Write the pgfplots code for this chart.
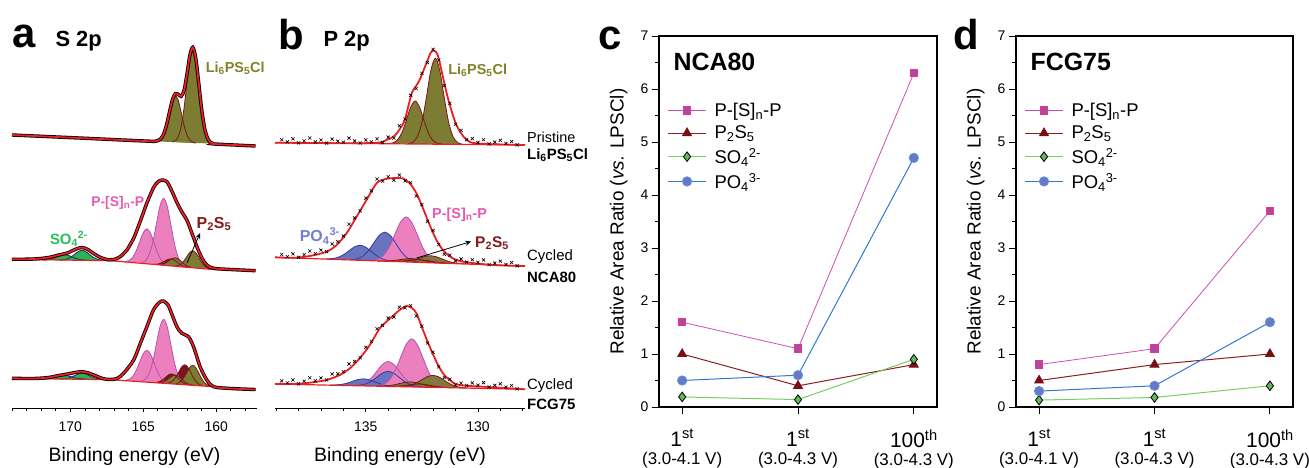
\documentclass[border=0pt]{standalone}
\usepackage{fontspec}
\setmainfont{Liberation Sans}
\usepackage{pgfplots}
\usepackage{pgfplotstable}
\pgfplotsset{compat=1.18}
\usetikzlibrary{arrows.meta}

\definecolor{olivef}{RGB}{124,124,50}
\definecolor{compred}{RGB}{120,25,25}
\definecolor{pinkf}{RGB}{236,128,190}
\definecolor{pinkline}{RGB}{175,85,175}
\definecolor{greenf}{RGB}{40,180,80}
\definecolor{navyl}{RGB}{30,40,120}
\definecolor{bluef}{RGB}{105,115,190}
\definecolor{bluel}{RGB}{45,60,160}
\definecolor{redf}{RGB}{125,20,25}
\definecolor{envred}{RGB}{235,30,35}
\definecolor{lblolive}{RGB}{130,130,40}
\definecolor{lblpink}{RGB}{230,90,175}
\definecolor{lblred}{RGB}{135,25,30}
\definecolor{lblgreen}{RGB}{40,190,90}
\definecolor{lblblue}{RGB}{115,125,205}
\definecolor{cPSline}{RGB}{200,80,180}
\definecolor{cPSfill}{RGB}{170,75,160}
\definecolor{cPSedge}{RGB}{240,50,140}
\definecolor{cPtwoline}{RGB}{140,30,30}
\definecolor{cPtwofill}{RGB}{120,15,20}
\definecolor{cSOline}{RGB}{120,205,100}
\definecolor{cSOfill}{RGB}{95,185,85}
\definecolor{cPOline}{RGB}{50,120,210}
\definecolor{cPOfill}{RGB}{105,120,195}
\definecolor{cPOedge}{RGB}{90,150,230}

\newcommand{\compfill}[2]{\addplot[smooth, draw=none, fill=#2] table {#1} -- cycle;}
\newcommand{\compline}[2]{\addplot[smooth, draw=#2, line width=0.8bp] table {#1};}
\newcommand{\lgf}{\fontsize{18.5}{21}\selectfont}

% ---------- S 2p (panel a), y = image row ----------
\pgfplotstableread[row sep=\\]{x y\\
163.0 141.9\\ 162.8 140.6\\ 162.6 136.5\\ 162.4 126.5\\ 162.2 107.7\\ 162.0 81.9\\ 161.8 58.0\\
161.6 48.2\\ 161.4 58.3\\ 161.2 82.4\\ 161.0 108.5\\ 160.8 127.5\\ 160.6 137.8\\ 160.4 142.2\\ 160.2 143.7\\
}\aTopBig
\pgfplotstableread[row sep=\\]{x y\\
164.2 141.3\\ 164.0 140.7\\ 163.8 138.8\\ 163.6 133.9\\ 163.4 124.7\\ 163.2 111.9\\ 163.0 100.2\\
162.8 95.4\\ 162.6 100.4\\ 162.4 112.5\\ 162.2 125.5\\ 162.0 134.9\\ 161.8 140.1\\ 161.6 142.3\\ 161.4 143.1\\
}\aTopSmall
\pgfplotstableread[row sep=\\]{x y\\
174.0 135.0\\ 170.0 137.6\\ 166.0 140.3\\ 164.4 141.3\\ 164.2 141.3\\ 164.0 140.7\\ 163.8 138.8\\
163.6 133.9\\ 163.4 124.7\\ 163.2 111.9\\ 163.0 99.8\\ 162.8 93.6\\ 162.6 94.4\\ 162.4 96.3\\ 162.2 90.4\\
162.0 73.9\\ 161.8 55.1\\ 161.6 47.3\\ 161.4 58.1\\ 161.2 82.4\\ 161.0 108.5\\ 160.8 127.5\\ 160.6 137.8\\
160.4 142.2\\ 160.2 143.7\\ 160.0 144.1\\ 157.3 146.0\\
}\aTopEnv

\pgfplotstableread[row sep=\\]{x y\\
170.7 260.2\\ 170.45 259.9\\ 170.2 258.9\\ 169.95 257.1\\ 169.7 254.2\\ 169.45 251.5\\ 169.2 250.3\\
168.95 251.5\\ 168.7 254.2\\ 168.45 257.1\\ 168.2 258.9\\ 167.95 259.9\\ 167.7 260.2\\
}\aMidGreenA
\pgfplotstableread[row sep=\\]{x y\\
171.9 260.0\\ 171.65 259.9\\ 171.4 259.4\\ 171.15 258.3\\ 170.9 256.8\\ 170.65 255.2\\ 170.4 254.6\\
170.15 255.2\\ 169.9 256.8\\ 169.65 258.3\\ 169.4 259.4\\ 169.15 259.9\\ 168.9 260.0\\
}\aMidGreenB
\pgfplotstableread[row sep=\\]{x y\\
166.25 261.5\\ 166.0 260.7\\ 165.75 257.8\\ 165.5 251.45\\ 165.25 242.0\\ 165.0 232.6\\ 164.75 228.8\\
164.5 233.2\\ 164.25 243.2\\ 164.0 253.35\\ 163.75 260.4\\ 163.5 264.0\\ 163.25 265.3\\
}\aMidPinkB
\pgfplotstableread[row sep=\\]{x y\\
165.1 262.7\\ 164.85 260.8\\ 164.6 254.9\\ 164.35 242.5\\ 164.1 224.0\\ 163.85 205.8\\ 163.6 198.3\\
163.35 206.5\\ 163.1 225.3\\ 162.85 244.4\\ 162.6 257.4\\ 162.35 263.9\\ 162.1 266.5\\
}\aMidPinkA
\pgfplotstableread[row sep=\\]{x y\\
164.3 264.3\\ 164.1 264.2\\ 163.9 263.7\\ 163.7 262.5\\ 163.5 260.9\\ 163.3 259.3\\ 163.1 258.9\\
162.9 259.8\\ 162.7 261.9\\ 162.5 264.05\\ 162.3 265.7\\ 162.1 266.75\\ 161.9 267.3\\
}\aMidRed
\pgfplotstableread[row sep=\\]{x y\\
164.0 264.55\\ 163.8 264.5\\ 163.6 263.85\\ 163.4 262.4\\ 163.2 260.3\\ 163.0 258.4\\ 162.8 257.8\\
162.6 258.9\\ 162.4 261.3\\ 162.2 263.9\\ 162.0 265.9\\ 161.8 267.0\\ 161.6 267.6\\
}\aMidOlB
\pgfplotstableread[row sep=\\]{x y\\
162.8 266.0\\ 162.6 265.4\\ 162.4 263.9\\ 162.2 260.7\\ 162.0 256.4\\ 161.8 252.3\\ 161.6 250.8\\
161.4 252.8\\ 161.2 257.4\\ 161.0 262.2\\ 160.8 265.9\\ 160.6 268.0\\ 160.4 269.0\\
}\aMidOlA
\pgfplotstableread[row sep=\\]{x y\\
174.0 259.3\\ 172.5 259.0\\ 171.5 257.5\\ 170.8 255.0\\ 170.2 253.0\\ 169.6 249.0\\ 169.2 247.5\\
168.8 249.5\\ 168.4 253.5\\ 168.0 257.0\\ 167.5 259.5\\ 167.03 259.5\\ 166.58 256.7\\ 166.12 250.0\\
165.66 238.3\\ 165.43 230.0\\ 165.09 216.7\\ 164.75 203.0\\ 164.29 187.5\\ 164.0 182.0\\ 163.72 180.0\\
163.38 181.7\\ 163.04 191.0\\ 162.69 202.5\\ 162.35 212.0\\ 162.01 220.0\\ 161.66 233.3\\ 161.32 246.7\\
160.98 258.0\\ 160.64 265.0\\ 160.18 268.3\\ 159.0 269.5\\ 157.3 270.7\\
}\aMidEnv

\pgfplotstableread[row sep=\\]{x y\\
170.7 379.1\\ 170.45 378.9\\ 170.2 378.4\\ 169.95 377.3\\ 169.7 375.6\\ 169.45 373.9\\ 169.2 373.2\\
168.95 373.9\\ 168.7 375.6\\ 168.45 377.3\\ 168.2 378.4\\ 167.95 378.9\\ 167.7 379.1\\
}\aBotGreenA
\pgfplotstableread[row sep=\\]{x y\\
171.9 379.0\\ 171.65 378.85\\ 171.4 378.5\\ 171.15 377.9\\ 170.9 376.9\\ 170.65 375.9\\ 170.4 375.5\\
170.15 375.9\\ 169.9 376.9\\ 169.65 377.9\\ 169.4 378.5\\ 169.15 378.85\\ 168.9 379.0\\
}\aBotGreenB
\pgfplotstableread[row sep=\\]{x y\\
166.25 380.3\\ 166.0 379.5\\ 165.75 376.85\\ 165.5 371.0\\ 165.25 362.25\\ 165.0 353.7\\ 164.75 350.15\\
164.5 354.2\\ 164.25 363.25\\ 164.0 372.5\\ 163.75 378.85\\ 163.5 382.0\\ 163.25 383.3\\
}\aBotPinkB
\pgfplotstableread[row sep=\\]{x y\\
165.1 381.1\\ 164.85 379.25\\ 164.6 373.6\\ 164.35 361.75\\ 164.1 344.0\\ 163.85 326.55\\ 163.6 319.3\\
163.35 327.05\\ 163.1 345.0\\ 162.85 363.25\\ 162.6 375.6\\ 162.35 381.75\\ 162.1 384.1\\
}\aBotPinkA
\pgfplotstableread[row sep=\\]{x y\\
164.25 382.45\\ 164.05 382.25\\ 163.85 381.35\\ 163.65 379.55\\ 163.45 377.05\\ 163.25 374.65\\ 163.05 373.85\\
162.85 375.05\\ 162.65 377.85\\ 162.45 380.75\\ 162.25 382.95\\ 162.05 384.25\\ 161.85 384.85\\
}\aBotRedB
\pgfplotstableread[row sep=\\]{x y\\
163.35 383.15\\ 163.15 382.45\\ 162.95 380.55\\ 162.75 376.75\\ 162.55 371.55\\ 162.35 366.65\\ 162.15 364.75\\
161.95 367.05\\ 161.75 372.35\\ 161.55 377.95\\ 161.35 382.15\\ 161.15 384.45\\ 160.95 385.55\\
}\aBotRedA
\pgfplotstableread[row sep=\\]{x y\\
164.0 382.7\\ 163.8 382.5\\ 163.6 381.8\\ 163.4 380.2\\ 163.2 377.9\\ 163.0 375.8\\ 162.8 375.1\\
162.6 376.2\\ 162.4 378.7\\ 162.2 381.4\\ 162.0 383.4\\ 161.8 384.5\\ 161.6 385.1\\
}\aBotOlB
\pgfplotstableread[row sep=\\]{x y\\
162.8 383.7\\ 162.6 383.0\\ 162.4 381.1\\ 162.2 377.3\\ 162.0 372.1\\ 161.8 367.2\\ 161.6 365.3\\
161.4 367.6\\ 161.2 372.9\\ 161.0 378.5\\ 160.8 382.7\\ 160.6 385.0\\ 160.4 386.1\\
}\aBotOlA
\pgfplotstableread[row sep=\\]{x y\\
174.0 378.3\\ 172.5 378.5\\ 171.5 377.5\\ 170.8 375.5\\ 170.2 374.0\\ 169.6 372.3\\ 169.2 371.7\\
168.8 372.8\\ 168.3 375.5\\ 167.8 378.5\\ 167.3 379.5\\ 166.8 378.5\\ 166.35 373.3\\ 165.66 360.0\\
165.2 343.3\\ 164.75 326.7\\ 164.3 310.0\\ 163.9 302.5\\ 163.61 301.0\\ 163.3 305.0\\ 163.15 310.0\\
162.69 326.7\\ 162.35 333.3\\ 161.9 336.7\\ 161.55 346.7\\ 161.1 366.7\\ 160.64 380.0\\ 160.18 386.7\\
159.0 388.5\\ 157.3 389.5\\
}\aBotEnv

% ---------- P 2p (panel b) ----------
\pgfplotstableread[row sep=\\]{x y\\
133.1 143.6\\ 132.9 142.2\\ 132.7 136.7\\ 132.5 122.7\\ 132.3 97.7\\ 132.1 70.45\\ 131.9 58.2\\
131.7 70.5\\ 131.5 97.9\\ 131.3 122.9\\ 131.1 137.1\\ 130.9 142.6\\ 130.7 144.15\\
}\bTopBig
\pgfplotstableread[row sep=\\]{x y\\
134.0 143.55\\ 133.8 142.9\\ 133.6 140.2\\ 133.4 133.2\\ 133.2 120.7\\ 133.0 107.1\\ 132.8 101.0\\
132.6 107.15\\ 132.4 120.9\\ 132.2 133.4\\ 132.0 140.6\\ 131.8 143.3\\ 131.6 144.06\\
}\bTopSmall
\pgfplotstableread[row sep=\\]{x y\\
139.05 142.7\\ 136.0 143.2\\ 134.5 142.8\\ 134.08 140.0\\ 133.7 135.5\\ 133.3 122.0\\ 133.1 106.0\\
132.95 93.0\\ 132.8 87.3\\ 132.6 80.0\\ 132.3 63.3\\ 132.1 52.5\\ 131.95 50.7\\ 131.8 54.5\\
131.63 70.0\\ 131.34 98.0\\ 130.96 125.0\\ 130.52 139.5\\ 130.0 143.5\\ 127.9 145.0\\
}\bTopEnv
\pgfplotstableread[row sep=\\]{x y\\
138.75 139.7\\ 138.5 141.8\\ 138.25 138.8\\ 138.0 142.9\\ 137.75 140.9\\ 137.5 138.0\\ 137.25 142.0\\
137.0 140.0\\ 136.75 143.1\\ 136.5 139.1\\ 136.25 141.2\\ 136.0 142.2\\ 135.75 138.1\\ 135.5 141.0\\
135.25 143.0\\ 135.0 139.9\\ 134.75 141.9\\ 134.5 138.8\\ 134.25 142.5\\ 134.0 137.1\\ 133.75 138.1\\
133.5 125.8\\ 133.25 119.0\\ 133.0 95.3\\ 132.75 88.5\\ 132.5 73.4\\ 132.25 62.6\\ 132.0 49.3\\
131.75 60.0\\ 131.5 85.5\\ 131.25 103.4\\ 131.0 124.2\\ 130.75 130.4\\ 130.5 139.7\\ 130.25 138.6\\
130.0 142.5\\ 129.75 139.7\\ 129.5 143.9\\ 129.25 142.1\\ 129.0 140.3\\ 128.75 143.4\\ 128.5 141.6\\
128.25 144.8\\
}\bTopData

\pgfplotstableread[row sep=\\]{x y\\
136.75 258.9\\ 136.5 258.6\\ 136.25 257.4\\ 136.0 254.8\\ 135.75 250.8\\ 135.5 246.8\\ 135.25 245.3\\
135.0 247.2\\ 134.75 251.6\\ 134.5 256.0\\ 134.25 259.0\\ 134.0 260.6\\ 133.75 261.3\\
}\bMidBlueA
\pgfplotstableread[row sep=\\]{x y\\
135.65 259.6\\ 135.4 258.9\\ 135.15 256.4\\ 134.9 251.1\\ 134.65 243.15\\ 134.4 235.35\\ 134.15 232.1\\
133.9 235.7\\ 133.65 243.9\\ 133.4 252.3\\ 133.15 258.0\\ 132.9 260.85\\ 132.65 262.0\\
}\bMidBlueB
\pgfplotstableread[row sep=\\]{x y\\
134.7 260.2\\ 134.45 258.9\\ 134.2 255.0\\ 133.95 246.7\\ 133.7 234.2\\ 133.45 222.0\\ 133.2 216.9\\
132.95 222.4\\ 132.7 235.0\\ 132.45 247.9\\ 132.2 256.6\\ 131.95 260.9\\ 131.7 262.6\\
}\bMidPink
\pgfplotstableread[row sep=\\]{x y\\
134.1 261.1\\ 133.85 261.3\\ 133.6 261.2\\ 133.35 260.95\\ 133.1 260.4\\ 132.85 259.9\\ 132.6 259.85\\
132.35 260.3\\ 132.1 261.2\\ 131.85 262.1\\ 131.6 262.8\\ 131.35 263.2\\ 131.1 263.5\\
}\bMidRed
\pgfplotstableread[row sep=\\]{x y\\
134.45 260.85\\ 134.2 260.95\\ 133.95 260.8\\ 133.7 260.35\\ 133.45 259.55\\ 133.2 258.8\\ 132.95 258.6\\
132.7 259.2\\ 132.45 260.35\\ 132.2 261.5\\ 131.95 262.4\\ 131.7 262.9\\ 131.45 263.2\\
}\bMidOlB
\pgfplotstableread[row sep=\\]{x y\\
133.6 261.5\\ 133.35 261.5\\ 133.1 261.0\\ 132.85 259.9\\ 132.6 258.1\\ 132.35 256.4\\ 132.1 255.75\\
131.85 256.8\\ 131.6 258.9\\ 131.35 261.1\\ 131.1 262.6\\ 130.85 263.4\\ 130.6 263.9\\
}\bMidOlA
\pgfplotstableread[row sep=\\]{x y\\
139.05 257.3\\ 138.2 257.8\\ 137.5 256.0\\ 136.75 251.7\\ 136.3 245.0\\ 135.86 233.3\\ 135.41 216.7\\
134.97 200.0\\ 134.52 183.3\\ 134.2 179.5\\ 133.9 178.3\\ 133.6 178.0\\ 133.34 178.5\\ 133.04 183.3\\
132.74 193.3\\ 132.45 208.3\\ 132.15 225.0\\ 131.85 240.0\\ 131.56 250.0\\ 131.19 257.3\\ 130.67 261.7\\
129.33 265.0\\ 127.9 266.0\\
}\bMidEnv
\pgfplotstableread[row sep=\\]{x y\\
138.75 254.5\\ 138.5 256.6\\ 138.25 253.8\\ 138.0 257.3\\ 137.75 254.6\\ 137.5 251.0\\ 137.25 253.6\\
137.0 250.1\\ 136.75 251.7\\ 136.5 244.0\\ 136.25 241.7\\ 136.0 236.0\\ 135.75 224.2\\ 135.5 218.0\\
135.25 210.8\\ 135.0 198.1\\ 134.75 190.8\\ 134.5 179.0\\ 134.25 181.1\\ 134.0 176.7\\ 133.75 180.2\\
133.5 175.1\\ 133.25 180.9\\ 133.0 182.6\\ 132.75 196.0\\ 132.5 204.7\\ 132.25 221.4\\ 132.0 230.5\\
131.75 244.5\\ 131.5 254.2\\ 131.25 255.1\\ 131.0 260.9\\ 130.75 259.0\\ 130.5 262.1\\ 130.25 259.7\\
130.0 262.3\\ 129.75 259.9\\ 129.5 264.6\\ 129.25 263.1\\ 129.0 261.2\\ 128.75 264.4\\ 128.5 262.6\\
128.25 265.8\\
}\bMidData

\pgfplotstableread[row sep=\\]{x y\\
135.5 385.4\\ 135.25 384.7\\ 135.0 382.54\\ 134.75 377.92\\ 134.5 371.0\\ 134.25 364.22\\ 134.0 361.4\\
133.75 364.46\\ 133.5 371.48\\ 133.25 378.64\\ 133.0 383.5\\ 132.75 385.9\\ 132.5 386.84\\
}\bBotPinkB
\pgfplotstableread[row sep=\\]{x y\\
135.5 385.5\\ 135.25 385.14\\ 135.0 383.89\\ 134.75 381.17\\ 134.5 377.06\\ 134.25 373.04\\ 134.0 371.4\\
133.75 373.28\\ 133.5 377.54\\ 133.25 381.89\\ 133.0 384.85\\ 132.75 386.34\\ 132.5 386.95\\
}\bBotBlueA
\pgfplotstableread[row sep=\\]{x y\\
136.6 385.07\\ 136.35 384.96\\ 136.1 384.44\\ 135.85 383.24\\ 135.6 381.38\\ 135.35 379.57\\ 135.1 378.87\\
134.85 379.81\\ 134.6 381.86\\ 134.35 383.96\\ 134.1 385.4\\ 133.85 386.16\\ 133.6 386.51\\
}\bBotBlueB
\pgfplotstableread[row sep=\\]{x y\\
134.45 385.65\\ 134.2 384.19\\ 133.95 379.93\\ 133.7 370.95\\ 133.45 357.55\\ 133.2 344.42\\ 132.95 338.9\\
132.7 344.66\\ 132.45 358.03\\ 132.2 371.67\\ 131.95 380.89\\ 131.7 385.39\\ 131.45 387.09\\
}\bBotPinkA
\pgfplotstableread[row sep=\\]{x y\\
134.1 386.32\\ 133.85 386.34\\ 133.6 386.18\\ 133.35 385.74\\ 133.1 385.01\\ 132.85 384.3\\ 132.6 384.07\\
132.35 384.54\\ 132.1 385.49\\ 131.85 386.46\\ 131.6 387.14\\ 131.35 387.54\\ 131.1 387.76\\
}\bBotRed
\pgfplotstableread[row sep=\\]{x y\\
134.5 386.1\\ 134.25 386.06\\ 134.0 385.72\\ 133.75 384.9\\ 133.5 383.61\\ 133.25 382.35\\ 133.0 381.88\\
132.75 382.59\\ 132.5 384.09\\ 132.25 385.62\\ 132.0 386.68\\ 131.75 387.26\\ 131.5 387.54\\
}\bBotOlB
\pgfplotstableread[row sep=\\]{x y\\
133.5 386.51\\ 133.25 386.23\\ 133.0 385.26\\ 132.75 383.1\\ 132.5 379.84\\ 132.25 376.65\\ 132.0 375.36\\
131.75 376.89\\ 131.5 380.32\\ 131.25 383.82\\ 131.0 386.22\\ 130.75 387.43\\ 130.5 387.95\\
}\bBotOlA
\pgfplotstableread[row sep=\\]{x y\\
139.05 384.0\\ 138.0 383.8\\ 137.5 382.7\\ 136.75 380.0\\ 136.16 375.0\\ 135.71 368.3\\ 135.27 358.3\\
134.82 345.0\\ 134.38 328.3\\ 134.08 321.7\\ 133.8 316.0\\ 133.49 310.0\\ 133.19 306.0\\ 132.95 308.0\\
132.74 313.3\\ 132.45 330.0\\ 132.15 346.7\\ 131.85 361.7\\ 131.56 373.3\\ 131.26 380.0\\ 130.82 385.0\\
129.33 387.3\\ 127.9 389.3\\
}\bBotEnv
\pgfplotstableread[row sep=\\]{x y\\
138.75 380.9\\ 138.5 382.9\\ 138.25 379.9\\ 138.0 383.8\\ 137.75 381.3\\ 137.5 377.7\\ 137.25 380.8\\
137.0 377.9\\ 136.75 380.0\\ 136.5 373.9\\ 136.25 373.8\\ 136.0 371.6\\ 135.75 363.9\\ 135.5 361.5\\
135.25 357.7\\ 135.0 347.3\\ 134.75 341.4\\ 134.5 328.8\\ 134.25 325.5\\ 134.0 318.1\\ 133.75 317.0\\
133.5 307.2\\ 133.25 307.8\\ 133.0 305.6\\ 132.75 316.0\\ 132.5 326.1\\ 132.25 343.1\\ 132.0 352.2\\
131.75 366.8\\ 131.5 377.6\\ 131.25 379.1\\ 131.0 385.0\\ 130.75 383.1\\ 130.5 385.5\\ 130.25 382.9\\
130.0 385.2\\ 129.75 382.6\\ 129.5 387.0\\ 129.25 385.4\\ 129.0 383.8\\ 128.75 387.2\\ 128.5 385.5\\
128.25 388.9\\
}\bBotData

\pgfplotsset{
  xps/.style={
    anchor=south west, scale only axis, height=408bp,
    ymin=0, ymax=408, x dir=reverse, y dir=reverse,
    axis x line=bottom, axis y line=none,
    axis line style={-, line width=0.8bp},
    tick align=outside, major tick length=4bp, minor tick length=2.5bp,
    tick style={black, line width=0.7bp},
    xticklabel style={font=\fontsize{14}{16}\selectfont, yshift=-6bp},
    /pgf/number format/assume math mode=true,
    clip=false},
  ratio/.style={
    anchor=south west, scale only axis, width=278bp, height=371bp,
    xmin=-0.2, xmax=2.2, ymin=0, ymax=7,
    xtick={0,1,2}, ytick={0,1,...,7}, minor ytick={0.5,1.5,...,6.5},
    tick align=outside, xtick pos=left, ytick pos=left,
    major tick length=7bp, minor tick length=4bp,
    axis line style={line width=1.1bp}, tick style={black, line width=0.9bp},
    /pgf/number format/assume math mode=true,
    yticklabel style={font=\fontsize{14}{16}\selectfont},
    xticklabels={{{\fontsize{21}{21}\selectfont 1\textsuperscript{st}}\\(3.0-4.1 V)},
                  {{\fontsize{21}{21}\selectfont 1\textsuperscript{st}}\\(3.0-4.3 V)},
                  {{\fontsize{21}{21}\selectfont 100\textsuperscript{th}}\\(3.0-4.3 V)}},
    xticklabel style={align=center, font=\fontsize{17}{18}\selectfont, yshift=-12bp},
    ylabel={Relative Area Ratio (\textit{vs.} LPSCl)},
    ylabel style={font=\fontsize{19}{22}\selectfont, at={(axis description cs:-0.145,0.5)}, anchor=center},
    legend style={draw=none, fill=none, at={(0.03,0.825)}, anchor=north west,
      row sep=4bp, inner sep=0pt, cells={anchor=west},
      /tikz/every odd column/.append style={column sep=6bp}},
    legend image code/.code={\draw[mark repeat=2,mark phase=2,##1] plot coordinates {(0bp,0bp) (19bp,0bp) (38bp,0bp)};}
  },
  psS/.style={color=cPSline, line width=0.8bp, mark=square*, mark size=3.7bp, mark options={fill=cPSfill, draw=cPSedge, line width=1bp}},
  ptS/.style={color=cPtwoline, line width=1bp, mark=triangle*, mark size=5bp, mark options={fill=cPtwofill, draw=cPtwofill}},
  soS/.style={color=cSOline, line width=1bp, mark=diamond*, mark size=4.8bp, mark options={fill=cSOfill, draw=black, line width=0.8bp}},
  poS/.style={color=cPOline, line width=1bp, mark=*, mark size=4.7bp, mark options={fill=cPOfill, draw=cPOedge, line width=0.8bp}}
}

\begin{document}
\begin{tikzpicture}[x=1bp, y=1bp]
\path[use as bounding box] (0bp,0bp) rectangle (1309bp,468bp);

% ================= panel a =================
\begin{axis}[xps, at={(12bp,60bp)}, width=245bp, xmin=157.2, xmax=174,
  xtick={160,165,170}, minor xtick={158,159,...,174}]
  % pristine
  \compfill{\aTopSmall}{olivef}
  \compfill{\aTopBig}{olivef}
  \compline{\aTopSmall}{compred}
  \compline{\aTopBig}{compred}
  \addplot[smooth, black, line width=3.4bp] table {\aTopEnv};
  \addplot[smooth, envred, line width=1.8bp] table {\aTopEnv};
  % NCA80
  \compfill{\aMidGreenB}{greenf}
  \compfill{\aMidGreenA}{greenf}
  \compfill{\aMidPinkB}{pinkf}
  \compfill{\aMidPinkA}{pinkf}
  \compfill{\aMidRed}{redf}
  \compfill{\aMidOlB}{olivef}
  \compfill{\aMidOlA}{olivef}
  \compline{\aMidGreenB}{navyl}
  \compline{\aMidGreenA}{navyl}
  \compline{\aMidPinkB}{pinkline}
  \compline{\aMidPinkA}{pinkline}
  \compline{\aMidRed}{compred}
  \compline{\aMidOlB}{compred}
  \compline{\aMidOlA}{compred}
  \addplot[envred, line width=1.2bp] coordinates {(174,259.3) (167.2,260.7) (160.4,269.3) (157.3,270.7)};
  \addplot[smooth, black, line width=3.4bp] table {\aMidEnv};
  \addplot[smooth, envred, line width=1.8bp] table {\aMidEnv};
  % FCG75
  \compfill{\aBotGreenB}{greenf}
  \compfill{\aBotGreenA}{greenf}
  \compfill{\aBotPinkB}{pinkf}
  \compfill{\aBotPinkA}{pinkf}
  \compfill{\aBotRedB}{redf}
  \compfill{\aBotRedA}{redf}
  \compfill{\aBotOlB}{olivef}
  \compfill{\aBotOlA}{olivef}
  \compline{\aBotGreenB}{navyl}
  \compline{\aBotGreenA}{navyl}
  \compline{\aBotPinkB}{pinkline}
  \compline{\aBotPinkA}{pinkline}
  \compline{\aBotRedB}{compred}
  \compline{\aBotRedA}{compred}
  \compline{\aBotOlB}{compred}
  \compline{\aBotOlA}{compred}
  \addplot[envred, line width=1.2bp] coordinates {(174,378.3) (167.2,379.7) (160.4,386.5) (157.3,389.5)};
  \addplot[smooth, black, line width=3.4bp] table {\aBotEnv};
  \addplot[smooth, envred, line width=1.8bp] table {\aBotEnv};
  % labels
  \node[anchor=west, text=lblolive, font=\bfseries\fontsize{14.5}{16}\selectfont] at (axis cs:160.95,68) {Li\textsubscript{6}PS\textsubscript{5}Cl};
  \node[text=lblpink, font=\bfseries\fontsize{14}{16}\selectfont] at (axis cs:166.75,203) {P-[S]\textsubscript{n}-P};
  \node[text=lblred, font=\bfseries\fontsize{16}{18}\selectfont] at (axis cs:160.15,224) {P\textsubscript{2}S\textsubscript{5}};
  \node[text=lblgreen, font=\bfseries\fontsize{15}{17}\selectfont] at (axis cs:170.1,239) {SO\textsubscript{4}\textsuperscript{2-}};
  \draw[-{Stealth[length=6bp,width=5bp]}, line width=0.8bp] (axis cs:162.0,263) -- (axis cs:161.1,233);
\end{axis}

% ================= panel b =================
\begin{axis}[xps, at={(275bp,60bp)}, width=250bp, xmin=127.9, xmax=139.05,
  xtick={130,135}, minor xtick={128,129,...,139}]
  % pristine
  \compfill{\bTopSmall}{olivef}
  \compfill{\bTopBig}{olivef}
  \compline{\bTopSmall}{compred}
  \compline{\bTopBig}{compred}
  \addplot[envred, line width=1.2bp] coordinates {(139.05,142.7) (127.9,145.0)};
  \addplot[only marks, mark=x, mark size=2.2bp, black, line width=0.6bp] table {\bTopData};
  \addplot[smooth, envred, line width=1.8bp] table {\bTopEnv};
  % NCA80
  \compfill{\bMidBlueA}{bluef}
  \compfill{\bMidBlueB}{bluef}
  \compfill{\bMidPink}{pinkf}
  \compfill{\bMidRed}{redf}
  \compfill{\bMidOlB}{olivef}
  \compfill{\bMidOlA}{olivef}
  \compline{\bMidBlueA}{bluel}
  \compline{\bMidBlueB}{bluel}
  \compline{\bMidPink}{pinkline}
  \compline{\bMidRed}{compred}
  \compline{\bMidOlB}{compred}
  \compline{\bMidOlA}{compred}
  \addplot[envred, line width=1.2bp] coordinates {(139.05,257.3) (127.9,266.1)};
  \addplot[only marks, mark=x, mark size=2.2bp, black, line width=0.6bp] table {\bMidData};
  \addplot[smooth, envred, line width=1.8bp] table {\bMidEnv};
  % FCG75
  \compfill{\bBotPinkB}{pinkf}
  \compfill{\bBotBlueA}{bluef}
  \compfill{\bBotBlueB}{bluef}
  \compfill{\bBotPinkA}{pinkf}
  \compfill{\bBotRed}{redf}
  \compfill{\bBotOlB}{olivef}
  \compfill{\bBotOlA}{olivef}
  \compline{\bBotPinkB}{pinkline}
  \compline{\bBotBlueA}{bluel}
  \compline{\bBotBlueB}{bluel}
  \compline{\bBotPinkA}{pinkline}
  \compline{\bBotRed}{compred}
  \compline{\bBotOlB}{compred}
  \compline{\bBotOlA}{compred}
  \addplot[envred, line width=1.2bp] coordinates {(139.05,384.0) (127.9,389.3)};
  \addplot[only marks, mark=x, mark size=2.2bp, black, line width=0.6bp] table {\bBotData};
  \addplot[smooth, envred, line width=1.8bp] table {\bBotEnv};
  % labels
  \node[anchor=west, text=lblolive, font=\bfseries\fontsize{14.5}{16}\selectfont] at (axis cs:131.48,70) {Li\textsubscript{6}PS\textsubscript{5}Cl};
  \node[text=lblblue, font=\bfseries\fontsize{16}{18}\selectfont] at (axis cs:137.05,236) {PO\textsubscript{4}\textsuperscript{3-}};
  \node[text=lblpink, font=\bfseries\fontsize{14.5}{16}\selectfont] at (axis cs:130.82,215) {P-[S]\textsubscript{n}-P};
  \node[text=lblred, font=\bfseries\fontsize{15.5}{17}\selectfont] at (axis cs:129.37,243) {P\textsubscript{2}S\textsubscript{5}};
  \draw[-{Stealth[length=6bp,width=5bp]}, line width=0.8bp] (axis cs:132.73,258) -- (axis cs:130.3,241.5);
\end{axis}

% ================= panel c =================
\begin{axis}[ratio, at={(659bp,61bp)}]
  \addplot[psS] coordinates {(0,1.6) (1,1.1) (2,6.3)};
  \addlegendentry{\lgf P-[S]\textsubscript{n}-P}
  \addplot[ptS] coordinates {(0,1.0) (1,0.4) (2,0.8)};
  \addlegendentry{\lgf P\textsubscript{2}S\textsubscript{5}}
  \addplot[soS] coordinates {(0,0.19) (1,0.14) (2,0.9)};
  \addlegendentry{\lgf SO\textsubscript{4}\textsuperscript{2-}}
  \addplot[poS] coordinates {(0,0.5) (1,0.6) (2,4.7)};
  \addlegendentry{\lgf PO\textsubscript{4}\textsuperscript{3-}}
  \node[anchor=west, font=\bfseries\fontsize{25}{28}\selectfont] at (rel axis cs:0.04,0.93) {NCA80};
\end{axis}

% ================= panel d =================
\begin{axis}[ratio, at={(1016bp,61bp)}, width=277bp]
  \addplot[psS] coordinates {(0,0.8) (1,1.1) (2,3.7)};
  \addlegendentry{\lgf P-[S]\textsubscript{n}-P}
  \addplot[ptS] coordinates {(0,0.5) (1,0.8) (2,1.0)};
  \addlegendentry{\lgf P\textsubscript{2}S\textsubscript{5}}
  \addplot[soS] coordinates {(0,0.13) (1,0.18) (2,0.4)};
  \addlegendentry{\lgf SO\textsubscript{4}\textsuperscript{2-}}
  \addplot[poS] coordinates {(0,0.3) (1,0.4) (2,1.6)};
  \addlegendentry{\lgf PO\textsubscript{4}\textsuperscript{3-}}
  \node[anchor=west, font=\bfseries\fontsize{25}{28}\selectfont] at (rel axis cs:0.04,0.93) {FCG75};
\end{axis}

% x labels of the spectra panels
\node[anchor=base, font=\fontsize{19.5}{22}\selectfont] at (134.5bp,7bp) {Binding energy (eV)};
\node[anchor=base, font=\fontsize{19.5}{22}\selectfont] at (400bp,7bp) {Binding energy (eV)};
% panel letters and titles
\node[anchor=base west, font=\bfseries\fontsize{42}{44}\selectfont] at (9bp,420bp) {a};
\node[anchor=base west, font=\bfseries\fontsize{22}{24}\selectfont] at (52bp,421bp) {S 2p};
\node[anchor=base west, font=\bfseries\fontsize{42}{44}\selectfont] at (275bp,418bp) {b};
\node[anchor=base west, font=\bfseries\fontsize{22}{24}\selectfont] at (320bp,421bp) {P 2p};
\node[anchor=base west, font=\bfseries\fontsize{42}{44}\selectfont] at (595bp,418bp) {c};
\node[anchor=base west, font=\bfseries\fontsize{42}{44}\selectfont] at (950bp,418bp) {d};
% sample names
\node[anchor=west, inner sep=0pt, font=\fontsize{14.5}{16}\selectfont] at (527bp,331bp) {Pristine};
\node[anchor=west, inner sep=0pt, font=\bfseries\fontsize{15}{16}\selectfont] at (527bp,313bp) {Li\textsubscript{6}PS\textsubscript{5}Cl};
\node[anchor=west, inner sep=0pt, font=\fontsize{15}{16}\selectfont] at (527bp,211bp) {Cycled};
\node[anchor=west, inner sep=0pt, font=\bfseries\fontsize{15}{16}\selectfont] at (527bp,191bp) {NCA80};
\node[anchor=west, inner sep=0pt, font=\fontsize{15}{16}\selectfont] at (527bp,82bp) {Cycled};
\node[anchor=west, inner sep=0pt, font=\bfseries\fontsize{15}{16}\selectfont] at (527bp,64bp) {FCG75};
\end{tikzpicture}
\end{document}
